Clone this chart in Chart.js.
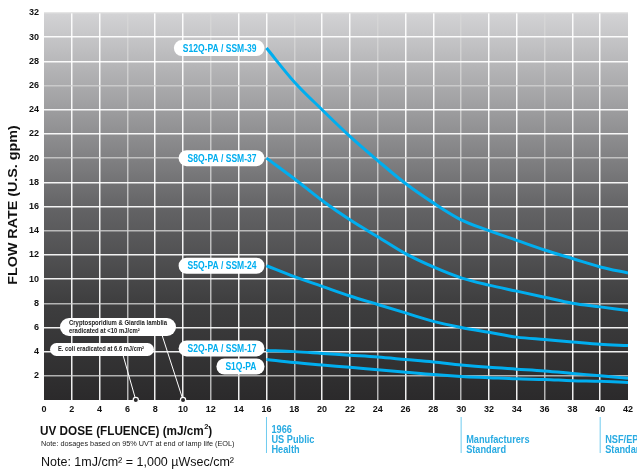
<!DOCTYPE html>
<html>
<head>
<meta charset="utf-8">
<script src="https://cdn.jsdelivr.net/npm/chart.js@4/dist/chart.umd.min.js"></script>
<style>
  html, body { margin: 0; padding: 0; background: #fff; }
  #wrap { width: 637px; height: 469px; position: relative; }
</style>
</head>
<body>
<div id="wrap"><canvas id="chartFlow"></canvas></div>
<script>
// UV dose (mJ/cm2) where the curves are sampled
const doses = [16, 18, 20, 22, 24, 26, 28, 30, 32, 34, 36, 38, 40, 42];
const seriesNames = ['S12Q-PA / SSM-39', 'S8Q-PA / SSM-37', 'S5Q-PA / SSM-24', 'S2Q-PA / SSM-17', 'S1Q-PA'];
const s12 = [29.1, 26.3, 24.0, 21.8, 19.8, 17.9, 16.3, 14.9, 14.0, 13.2, 12.4, 11.7, 11.0, 10.5];
const s8 = [20.0, 18.3, 16.5, 14.9, 13.5, 12.1, 11.0, 10.1, 9.5, 9.0, 8.5, 8.0, 7.7, 7.4];
const s5 = [11.1, 10.2, 9.4, 8.6, 7.9, 7.2, 6.5, 6.0, 5.6, 5.2, 5.0, 4.8, 4.6, 4.5];
const s2 = [4.1, 4.0, 3.85, 3.7, 3.55, 3.35, 3.15, 2.9, 2.7, 2.55, 2.4, 2.2, 2.0, 1.8];
const s1 = [3.35, 3.1, 2.9, 2.7, 2.5, 2.3, 2.1, 1.95, 1.85, 1.75, 1.7, 1.6, 1.55, 1.45];
const labelShift = [0, 0, 0, -2, 7];

// pathogen notes
const noteDoses = [10, 6.6];
const noteTexts = [
    ['Cryptosporidium & Giardia lamblia', 'eradicated at <10 mJ/cm\u00B2'],
    ['E. coli eradicated at 6.6 mJ/cm\u00B2']
];

// standards marked under the x axis
const stdDoses = [16, 30, 40];
const stdTexts = [['1966', 'US Public', 'Health'], ['', 'Manufacturers', 'Standard'], ['', 'NSF/EPA', 'Standard']];

const blue = '#00aeef';
const condense = 0.74;

function toPoints(ys) {
    return ys.map((y, i) => ({ x: doses[i], y: y }));
}

function pill(ctx, x, y, w, h) {
    const r = h / 2;
    ctx.beginPath();
    ctx.moveTo(x + r, y);
    ctx.lineTo(x + w - r, y);
    ctx.arc(x + w - r, y + r, r, -Math.PI / 2, Math.PI / 2);
    ctx.lineTo(x + r, y + h);
    ctx.arc(x + r, y + r, r, Math.PI / 2, Math.PI * 1.5);
    ctx.closePath();
    ctx.fillStyle = '#ffffff';
    ctx.fill();
}

// draw text squeezed horizontally (no condensed font installed)
function narrowText(ctx, text, x, y, sx, align) {
    const w = ctx.measureText(text).width * sx;
    const left = align === 'right' ? x - w : x;
    ctx.save();
    ctx.translate(left, y);
    ctx.scale(sx, 1);
    ctx.textAlign = 'left';
    ctx.fillText(text, 0, 0);
    ctx.restore();
    return w;
}

const backdrop = {
    id: 'backdrop',
    beforeDraw(chart) {
        const { ctx, chartArea: a } = chart;
        const g = ctx.createLinearGradient(0, a.top, 0, a.bottom);
        g.addColorStop(0, '#d3d3d5');
        g.addColorStop(0.25, '#9d9d9f');
        g.addColorStop(0.5, '#646466');
        g.addColorStop(0.75, '#3e3e3f');
        g.addColorStop(1, '#2b2a2b');
        ctx.save();
        ctx.fillStyle = g;
        ctx.fillRect(a.left, a.top, a.right - a.left, a.bottom - a.top);
        ctx.restore();
    }
};

const decorations = {
    id: 'decorations',
    afterDatasetsDraw(chart) {
        const { ctx } = chart;
        const xs = chart.scales.x, ys = chart.scales.y;
        ctx.save();

        // series labels next to the first point of each curve
        ctx.font = 'bold 11.5px "Liberation Sans", Arial, sans-serif';
        ctx.textBaseline = 'middle';
        seriesNames.forEach((name, i) => {
            const p = chart.getDatasetMeta(i).data[0];
            const cy = p.y + labelShift[i];
            const tw = ctx.measureText(name).width * condense;
            const w = tw + 17, h = 16;
            pill(ctx, p.x - 2 - w, cy - h / 2, w, h);
            ctx.fillStyle = blue;
            narrowText(ctx, name, p.x - 10, cy + 0.5, condense, 'right');
        });

        // pathogen notes with leader lines
        const boxes = [
            { x: 60, y: 318, w: 116, h: 18, lx: 162, tx: 69, tw: 98 },
            { x: 50, y: 343, w: 104, h: 13, lx: 123, tx: 58, tw: 86 }
        ];
        ctx.font = 'bold 6.8px "Liberation Sans", Arial, sans-serif';
        noteDoses.forEach((d, i) => {
            const b = boxes[i];
            const px = xs.getPixelForValue(d), py = ys.getPixelForValue(0);
            ctx.strokeStyle = '#ffffff';
            ctx.lineWidth = 1;
            ctx.beginPath();
            ctx.moveTo(b.lx, b.y + b.h - 1);
            ctx.lineTo(px, py);
            ctx.stroke();
            pill(ctx, b.x, b.y, b.w, b.h);
            ctx.fillStyle = '#222';
            const lines = noteTexts[i];
            const sx = Math.min(1, b.tw / ctx.measureText(lines[0]).width);
            lines.forEach((t, j) => {
                const ty = b.y + b.h / 2 + (j - (lines.length - 1) / 2) * 7.5;
                narrowText(ctx, t, b.tx, ty, sx, 'left');
            });
            ctx.beginPath();
            ctx.arc(px, py, 2.6, 0, Math.PI * 2);
            ctx.fillStyle = '#2b2a2b';
            ctx.fill();
            ctx.lineWidth = 1.2;
            ctx.strokeStyle = '#ffffff';
            ctx.stroke();
        });

        // y axis title
        ctx.save();
        ctx.translate(13, 205);
        ctx.rotate(-Math.PI / 2);
        ctx.font = 'bold 13px "Liberation Sans", Arial, sans-serif';
        ctx.fillStyle = '#111';
        ctx.textAlign = 'center';
        ctx.textBaseline = 'middle';
        ctx.scale(1.1, 1);
        ctx.fillText('FLOW RATE (U.S. gpm)', 0, 0);
        ctx.restore();

        // x axis title and notes
        ctx.textAlign = 'left';
        ctx.textBaseline = 'alphabetic';
        ctx.fillStyle = '#111';
        ctx.font = 'bold 13.5px "Liberation Sans", Arial, sans-serif';
        const w0 = narrowText(ctx, 'UV DOSE (FLUENCE) (mJ/cm', 40, 435, 0.87, 'left');
        ctx.font = 'bold 7.5px "Liberation Sans", Arial, sans-serif';
        ctx.fillText('2', 40 + w0 + 0.5, 429);
        ctx.font = 'bold 13.5px "Liberation Sans", Arial, sans-serif';
        narrowText(ctx, ')', 40 + w0 + 4.5, 435, 0.87, 'left');
        ctx.font = '7.3px "Liberation Sans", Arial, sans-serif';
        ctx.fillStyle = '#222';
        ctx.fillText('Note: dosages based on 95% UVT at end of lamp life (EOL)', 41, 446);
        ctx.font = '12.5px "Liberation Sans", Arial, sans-serif';
        ctx.fillStyle = '#111';
        ctx.fillText('Note: 1mJ/cm\u00B2 = 1,000 \u00B5Wsec/cm\u00B2', 41, 466);

        // standards
        ctx.font = 'bold 10px "Liberation Sans", Arial, sans-serif';
        stdDoses.forEach((d, i) => {
            const px = xs.getPixelForValue(d);
            ctx.strokeStyle = '#6fcbef';
            ctx.lineWidth = 1;
            ctx.beginPath();
            ctx.moveTo(px, 417);
            ctx.lineTo(px, 453);
            ctx.stroke();
            ctx.fillStyle = '#29abe2';
            stdTexts[i].forEach((t, j) => {
                if (t) narrowText(ctx, t, px + 5, 432.5 + j * 10.2, 0.92, 'left');
            });
        });

        ctx.restore();
    }
};

document.addEventListener('DOMContentLoaded', function () {
    const ctx = document.getElementById('chartFlow').getContext('2d');
    const all = [s12, s8, s5, s2, s1];

    new Chart(ctx, {
        type: 'line',
        data: {
            datasets: all.map((ys, i) => ({
                label: seriesNames[i],
                data: toPoints(ys),
                borderColor: blue,
                borderWidth: 3,
                pointRadius: 0,
                cubicInterpolationMode: 'monotone',
                fill: false
            }))
        },
        options: {
            responsive: true,
            maintainAspectRatio: false,
            animation: false,
            layout: {
                padding: { top: 13, right: 6, left: 0, bottom: 0 }
            },
            plugins: {
                legend: { display: false },
                tooltip: { enabled: false }
            },
            scales: {
                x: {
                    type: 'linear',
                    min: 0,
                    max: 42,
                    border: { display: false },
                    grid: {
                        color: (c) => (c.tick && (c.tick.value === 0 || c.tick.value === 42)) ? 'rgba(0,0,0,0)' : (c.index % 3 === 0 ? 'rgba(215,215,215,0.8)' : 'rgba(255,255,255,0.92)'),
                        lineWidth: 1.5,
                        drawTicks: false
                    },
                    ticks: {
                        stepSize: 2,
                        padding: 4,
                        color: '#111',
                        font: { family: '"Liberation Sans", Arial, sans-serif', weight: 'bold', size: 9 }
                    },
                    afterFit: (s) => { s.height = 69; }
                },
                y: {
                    min: 0,
                    max: 32,
                    border: { display: false },
                    grid: {
                        color: (c) => (c.tick && c.tick.value === 0) ? 'rgba(0,0,0,0)' : (c.tick && c.tick.value === 32 ? 'rgba(225,225,225,0.85)' : (c.index % 3 === 1 ? 'rgba(210,210,210,0.8)' : 'rgba(255,255,255,0.92)')),
                        lineWidth: 1.5,
                        drawTicks: false
                    },
                    ticks: {
                        stepSize: 2,
                        padding: 5,
                        color: '#111',
                        font: { family: '"Liberation Sans", Arial, sans-serif', weight: 'bold', size: 9 },
                        callback: (v) => v === 0 ? '' : v
                    },
                    afterFit: (s) => { s.width = 44; }
                }
            }
        },
        plugins: [backdrop, decorations]
    });
});
</script>
</body>
</html>
